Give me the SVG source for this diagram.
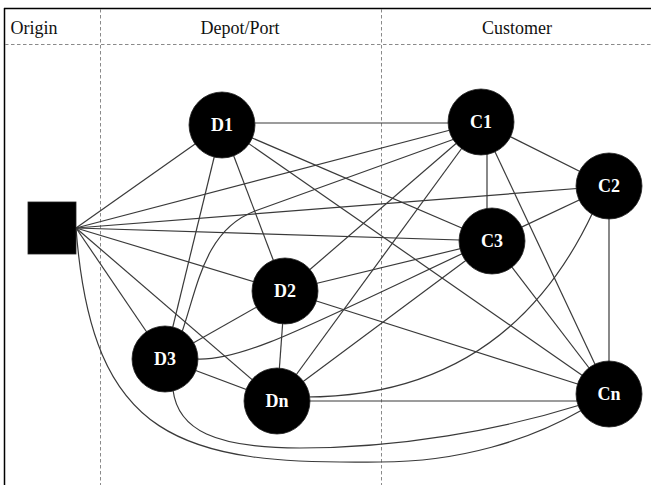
<svg xmlns="http://www.w3.org/2000/svg" width="651" height="485" viewBox="0 0 651 485">
<style>
.frame{stroke:#000;stroke-width:1.5;fill:none}
.dash{stroke:#8a8a8a;stroke-width:1;stroke-dasharray:3.5 2.5;fill:none}
.hdr{font-family:"Liberation Serif","Times New Roman",serif;font-size:18px;fill:#111;text-anchor:middle}
.e{stroke:#3a3a3a;stroke-width:1.2;fill:none}
.n{fill:#000;stroke:#222;stroke-width:0.8}
.lbl{font-family:"Liberation Serif","Times New Roman",serif;font-size:18px;font-weight:bold;fill:#fff;text-anchor:middle}
</style>
<rect width="651" height="485" fill="#fff"/>
<g id="frame">
<line class="frame" x1="4" y1="8.5" x2="651" y2="8.5"/>
<line class="frame" x1="4.5" y1="8" x2="4.5" y2="485"/>
<line class="dash" x1="5" y1="44.5" x2="651" y2="44.5"/>
<line class="dash" x1="100.5" y1="9" x2="100.5" y2="485"/>
<line class="dash" x1="381.5" y1="9" x2="381.5" y2="485"/>
<text class="hdr" x="34" y="34">Origin</text>
<text class="hdr" x="240" y="34">Depot/Port</text>
<text class="hdr" x="517" y="34">Customer</text>
</g>
<g id="connectors">
<line class="e" x1="76" y1="228" x2="222" y2="125"/>
<line class="e" x1="76" y1="228" x2="481" y2="122"/>
<line class="e" x1="76" y1="228" x2="609" y2="186"/>
<line class="e" x1="76" y1="228" x2="492" y2="241"/>
<line class="e" x1="76" y1="228" x2="285" y2="291"/>
<line class="e" x1="76" y1="228" x2="277" y2="401"/>
<line class="e" x1="76" y1="228" x2="165" y2="359"/>
<line class="e" x1="222" y1="123" x2="481" y2="123"/>
<line class="e" x1="222" y1="125" x2="492" y2="241"/>
<line class="e" x1="222" y1="125" x2="609" y2="394"/>
<line class="e" x1="222" y1="125" x2="285" y2="291"/>
<line class="e" x1="222" y1="125" x2="165" y2="359"/>
<line class="e" x1="285" y1="291" x2="481" y2="122"/>
<line class="e" x1="285" y1="291" x2="492" y2="241"/>
<line class="e" x1="285" y1="291" x2="609" y2="394"/>
<line class="e" x1="285" y1="291" x2="165" y2="359"/>
<line class="e" x1="285" y1="291" x2="277" y2="401"/>
<line class="e" x1="277" y1="401" x2="481" y2="122"/>
<line class="e" x1="277" y1="401" x2="492" y2="241"/>
<line class="e" x1="277" y1="401" x2="609" y2="401"/>
<line class="e" x1="277" y1="401" x2="165" y2="359"/>
<line class="e" x1="487" y1="122" x2="487" y2="241"/>
<line class="e" x1="481" y1="122" x2="609" y2="186"/>
<line class="e" x1="481" y1="122" x2="609" y2="394"/>
<line class="e" x1="609" y1="186" x2="492" y2="241"/>
<line class="e" x1="609" y1="186" x2="609" y2="394"/>
<line class="e" x1="492" y1="241" x2="609" y2="394"/>
<path class="e" d="M182,332 C198,285 205,230 255,211 L460,137"/>
<path class="e" d="M195,359 C240,362 300,330 470,250"/>
<path class="e" d="M173,390 C178,430 215,448 300,448 C400,448 500,430 580,405"/>
<path class="e" d="M76,228 C92,440 180,465 380,462 C460,462 530,440 582,410"/>
<path class="e" d="M305,397 C450,397 540,325 593,212"/>
</g>
<g id="origin"><rect class="n" x="28" y="202" width="48" height="52"/></g>
<g id="D1"><circle class="n" cx="222" cy="125" r="33"/><text class="lbl" x="222" y="131">D1</text></g>
<g id="D2"><circle class="n" cx="285" cy="291" r="33"/><text class="lbl" x="285" y="297">D2</text></g>
<g id="D3"><circle class="n" cx="165" cy="359" r="33"/><text class="lbl" x="165" y="365">D3</text></g>
<g id="Dn"><circle class="n" cx="277" cy="401" r="33"/><text class="lbl" x="277" y="407">Dn</text></g>
<g id="C1"><circle class="n" cx="481" cy="122" r="33"/><text class="lbl" x="481" y="128">C1</text></g>
<g id="C2"><circle class="n" cx="609" cy="186" r="33"/><text class="lbl" x="609" y="192">C2</text></g>
<g id="C3"><circle class="n" cx="492" cy="241" r="33"/><text class="lbl" x="492" y="247">C3</text></g>
<g id="Cn"><circle class="n" cx="609" cy="394" r="33"/><text class="lbl" x="609" y="400">Cn</text></g>
</svg>
